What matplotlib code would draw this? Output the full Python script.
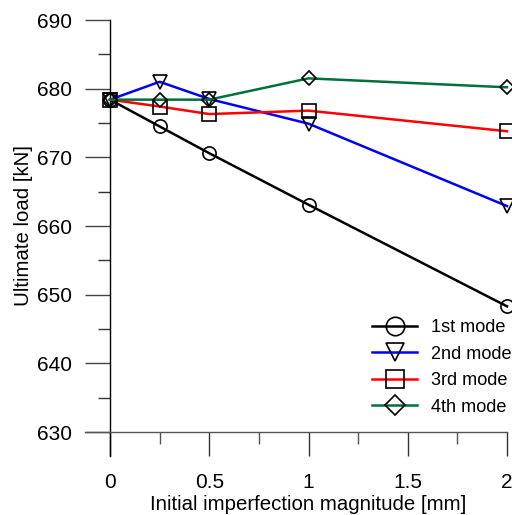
import matplotlib
matplotlib.use("Agg")
import matplotlib.pyplot as plt
from matplotlib.lines import Line2D

plt.rcParams['font.family'] = ['Liberation Sans', 'DejaVu Sans']

x = [0, 0.25, 0.5, 1, 2]
mode1 = [678.4, 674.5, 670.6, 663.1, 648.3]
mode2 = [678.4, 681.0, 678.5, 674.9, 662.9]
mode3 = [678.4, 677.4, 676.3, 676.8, 673.8]
mode4 = [678.4, 678.4, 678.4, 681.5, 680.2]
labels = ['1st mode', '2nd mode', '3rd mode', '4th mode']
colors = ['#000000', '#0000FF', '#FF0000', '#00703C']
markers = ['o', 'v', 's', 'D']
msizes = [9.5, 9.5, 9.5, 7.5]

xticks = [0, 0.5, 1, 1.5, 2]
xticklabels = ['0', '0.5', '1', '1.5', '2']
yticks = [630, 640, 650, 660, 670, 680, 690]

W, H = 512, 515
fig = plt.figure(figsize=(W / 100, H / 100), dpi=100)
ax = fig.add_axes([110 / W, (H - 432) / H, (507 - 110) / W, (432 - 20) / H])

series = [mode1, mode2, mode3, mode4]
for ys, lab, c, m, ms in zip(series, labels, colors, markers, msizes):
    ax.plot(x, ys, color=c, lw=1.8, marker=m, ms=ms, mfc='none', mec='black',
            mew=1.2, label=lab, clip_on=False, zorder=3)

ax.set_xlim(0, 2)
ax.set_ylim(630, 690)
for s in ax.spines.values():
    s.set_visible(False)

# custom axis lines
ax.add_line(Line2D([0, 0], [-24 / 412, 1], transform=ax.transAxes, color='black',
                   lw=1.0, clip_on=False, zorder=2))
ax.add_line(Line2D([-25 / 397, 1], [0, 0], transform=ax.transAxes, color='#555555',
                   lw=1.0, clip_on=False, zorder=2))

ax.set_xticks(xticks)
ax.set_xticklabels(xticklabels)
ax.set_xticks([0.25, 0.75, 1.25, 1.75], minor=True)
ax.set_yticks(yticks)
ax.set_yticks([635, 645, 655, 665, 675, 685], minor=True)

ax.tick_params(axis='x', which='major', direction='out', length=17.5, width=1.0,
               color='#333333', pad=12, labelsize=15)
ax.tick_params(axis='x', which='minor', direction='out', length=8.8, width=1.0,
               color='#555555')
ax.tick_params(axis='y', which='major', direction='out', length=18, width=1.0,
               color='#444444', pad=9, labelsize=15)
ax.tick_params(axis='y', which='minor', direction='out', length=9, width=1.0,
               color='#333333')

ax.set_xlabel('Initial imperfection magnitude [mm]', fontsize=14.7, labelpad=2)
ax.set_ylabel('Ultimate load [kN]', fontsize=14.7, labelpad=3)

leg = ax.legend(loc='lower right', bbox_to_anchor=(1.053, 0.0), frameon=False,
                fontsize=13.1, handlelength=2.47, handletextpad=0.77, labelspacing=0.52,
                markerscale=1.4)

fig.savefig('out.png', dpi=100)
